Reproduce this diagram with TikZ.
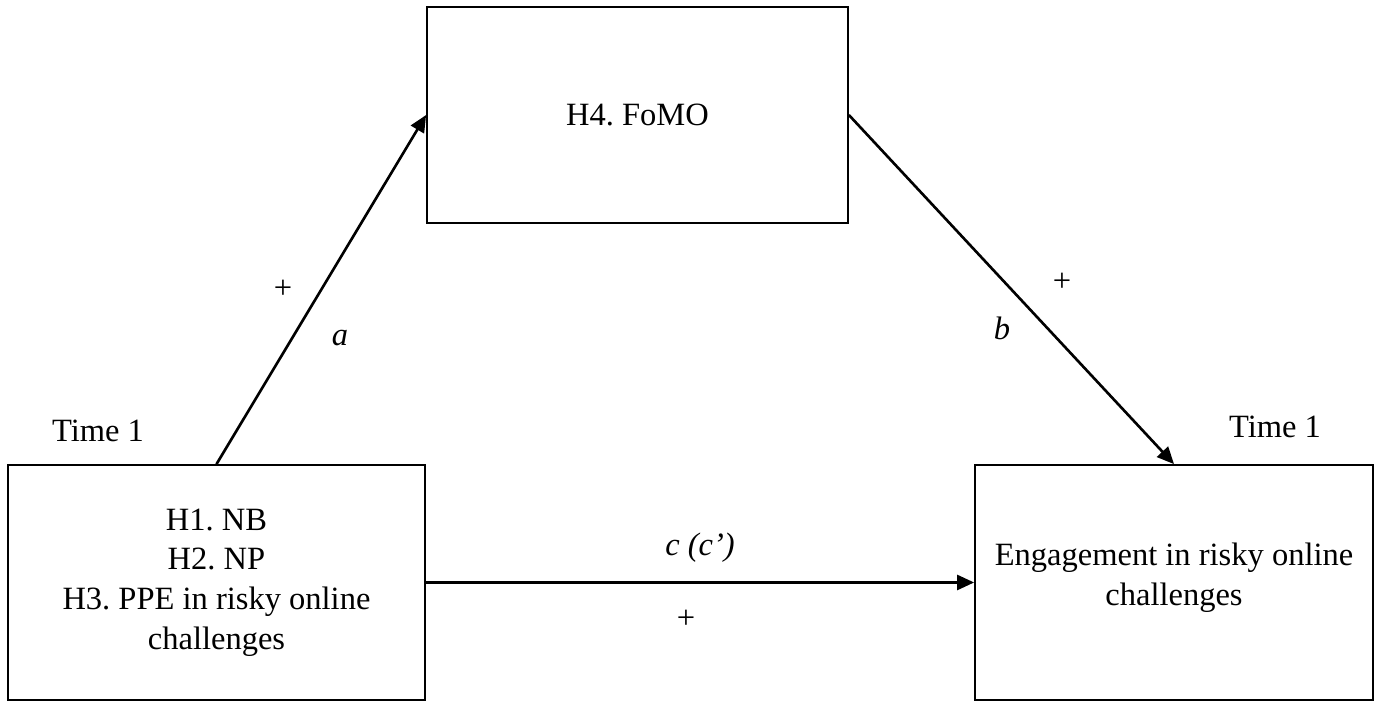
\documentclass[tikz,border=0pt]{standalone}
\usepackage{fontspec}
\setmainfont{Liberation Serif}
\usetikzlibrary{arrows.meta}
\frenchspacing

\begin{document}
\begin{tikzpicture}[font=\fontsize{18.5}{22.5}\selectfont,
  box/.style={draw, line width=1pt, rectangle, inner sep=0pt, align=center},
  arr/.style={line width=1.5pt, -{Triangle[length=0.34cm,width=0.3cm]}}]
\useasboundingbox (0,0) rectangle (27.5,14.04);
% boxes
\node[box, minimum width=8.34cm, minimum height=4.7cm] (pred) at (4.33,2.39) {H1. NB\\ H2. NP\\ H3. PPE in risky online\\ challenges};
\node[box, minimum width=8.42cm, minimum height=4.32cm] (fomo) at (12.75,11.74) {H4. FoMO};
\node[box, minimum width=7.96cm, minimum height=4.7cm] (eng) at (23.48,2.39) {Engagement in risky online\\ challenges\\[-0.47cm]};
% paths
\draw[arr] (pred.north) -- (fomo.west);
\draw[arr] (fomo.east) -- (eng.north);
\draw[arr] (pred.east) -- (eng.west);
% labels
\node (tleft) at (1.96,5.42) {Time 1};
\node (tright) at (25.5,5.5) {Time 1};
\node (pa) at (5.66,8.26) {+};
\node (la) at (6.8,7.28) {\textit{a}};
\node (pb) at (21.24,8.4) {+};
\node (lb) at (20.04,7.48) {\textit{b}};
\node (lc) at (14.0,3.08) {\textit{c (c’)}};
\node (pc) at (13.72,1.66) {+};
\end{tikzpicture}
\end{document}
